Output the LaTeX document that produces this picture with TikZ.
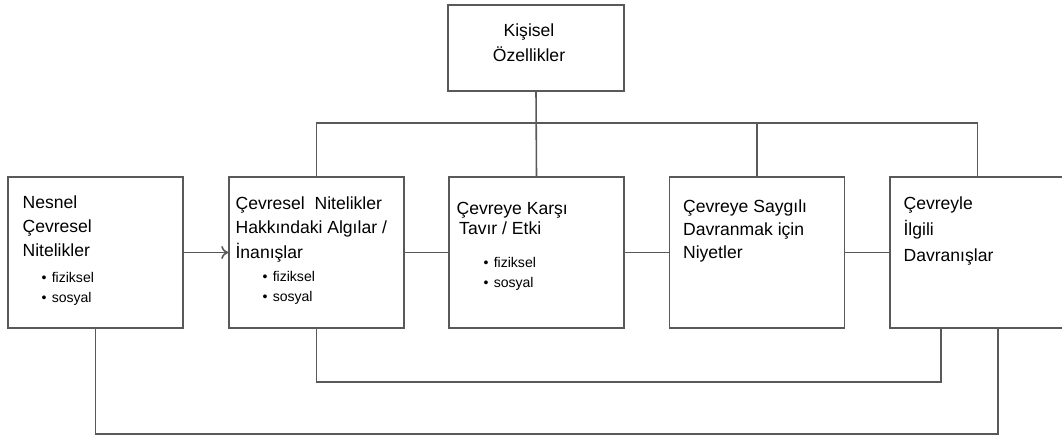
\documentclass[tikz,border=0pt]{standalone}
\usepackage{fontspec}
\setmainfont{Liberation Sans}
\usetikzlibrary{arrows.meta}
\colorlet{lineGray}{black!65}
\newcommand{\firstline}{\rule{0pt}{10pt}}
\newcommand{\itm}[1]{\textbullet\hspace{3pt}#1}

\begin{document}
\begin{tikzpicture}[x=0.02cm,y=-0.02cm,
  box/.style={draw=lineGray,line width=0.9pt,minimum width=3.5cm,minimum height=3.02cm,inner sep=0pt},
  title/.style={anchor=north west,inner sep=0pt,align=left,font=\fontsize{10}{13.6}\selectfont},
  items/.style={anchor=north west,inner sep=0pt,align=left,font=\fontsize{8}{11.3}\selectfont},
  wire/.style={lineGray,line width=0.9pt}]
\useasboundingbox (0,0) rectangle (1062,436);
\clip (0,0) rectangle (1062,436);

% boxes
\node[box,minimum width=3.52cm,minimum height=1.72cm] (kisisel) at (536,48) {};
\node[box] (nesnel) at (95.5,252.5) {};
\node[box] (algi) at (316.5,252.5) {};
\node[box] (tavir) at (536.5,252.5) {};
\node[box] (niyet) at (757,252.5) {};
\node[box] (davranis) at (977.5,252.5) {};

% texts
\node[anchor=north,inner sep=0pt,align=center,font=\fontsize{10}{14.2}\selectfont] (kisiselText)
  at ([shift={(-7,14.4)}]kisisel.north) {\firstline Kişisel\\Özellikler};
\node[title] (nesnelText) at ([shift={(15,14.4)}]nesnel.north west) {\firstline Nesnel\\Çevresel\\Nitelikler};
\node[items] (nesnelItems) at ([shift={(34,88.4)}]nesnel.north west) {\firstline\itm{fiziksel}\\\itm{sosyal}};
\node[title,font=\fontsize{10}{13.8}\selectfont] (algiText) at ([shift={(7,15.4)}]algi.north west)
  {\firstline Çevresel\ \ Nitelikler\\Hakkındaki Algılar /\\İnanışlar};
\node[items] (algiItems) at ([shift={(34,87.4)}]algi.north west) {\firstline\itm{fiziksel}\\\itm{sosyal}};
\node[title,font=\fontsize{10}{11.3}\selectfont] (tavirText) at ([shift={(8,20.4)}]tavir.north west)
  {\firstline Çevreye Karşı\\\hspace*{1.5pt}Tavır / Etki};
\node[items] (tavirItems) at ([shift={(35,73.4)}]tavir.north west) {\firstline\itm{fiziksel}\\\itm{sosyal}};
\node[title,font=\fontsize{10}{13}\selectfont] (niyetText) at ([shift={(14,18.4)}]niyet.north west)
  {\firstline Çevreye Saygılı\\Davranmak için\\Niyetler};
\node[title,font=\fontsize{10}{14.7}\selectfont] (davranisText) at ([shift={(14,15.4)}]davranis.north west)
  {\firstline Çevreyle\\İlgili\\Davranışlar};

% connectors
\coordinate (bus) at (0,123);
\coordinate (inner) at (0,382);
\coordinate (outer) at (0,434);
\coordinate (davranisA) at ([shift={(-36.5,0)}]davranis.south);
\coordinate (davranisB) at ([shift={(20.5,0)}]davranis.south);
\draw[wire] (kisisel.south) -- (tavir.north);
\draw[wire] (algi.north) -- (algi.north |- bus) -- (davranis.north |- bus) -- (davranis.north);
\draw[wire] (niyet.north) -- (niyet.north |- bus);
\draw[wire,-{To[length=1.4mm,width=2.6mm]}] (nesnel.east) -- (algi.west);
\draw[wire] (algi.east) -- (tavir.west);
\draw[wire] (tavir.east) -- (niyet.west);
\draw[wire] (niyet.east) -- (davranis.west);
\draw[wire] (algi.south) -- (algi.south |- inner) -- (davranisA |- inner) -- (davranisA);
\draw[wire] (nesnel.south) -- (nesnel.south |- outer) -- (davranisB |- outer) -- (davranisB);
\end{tikzpicture}
\end{document}
